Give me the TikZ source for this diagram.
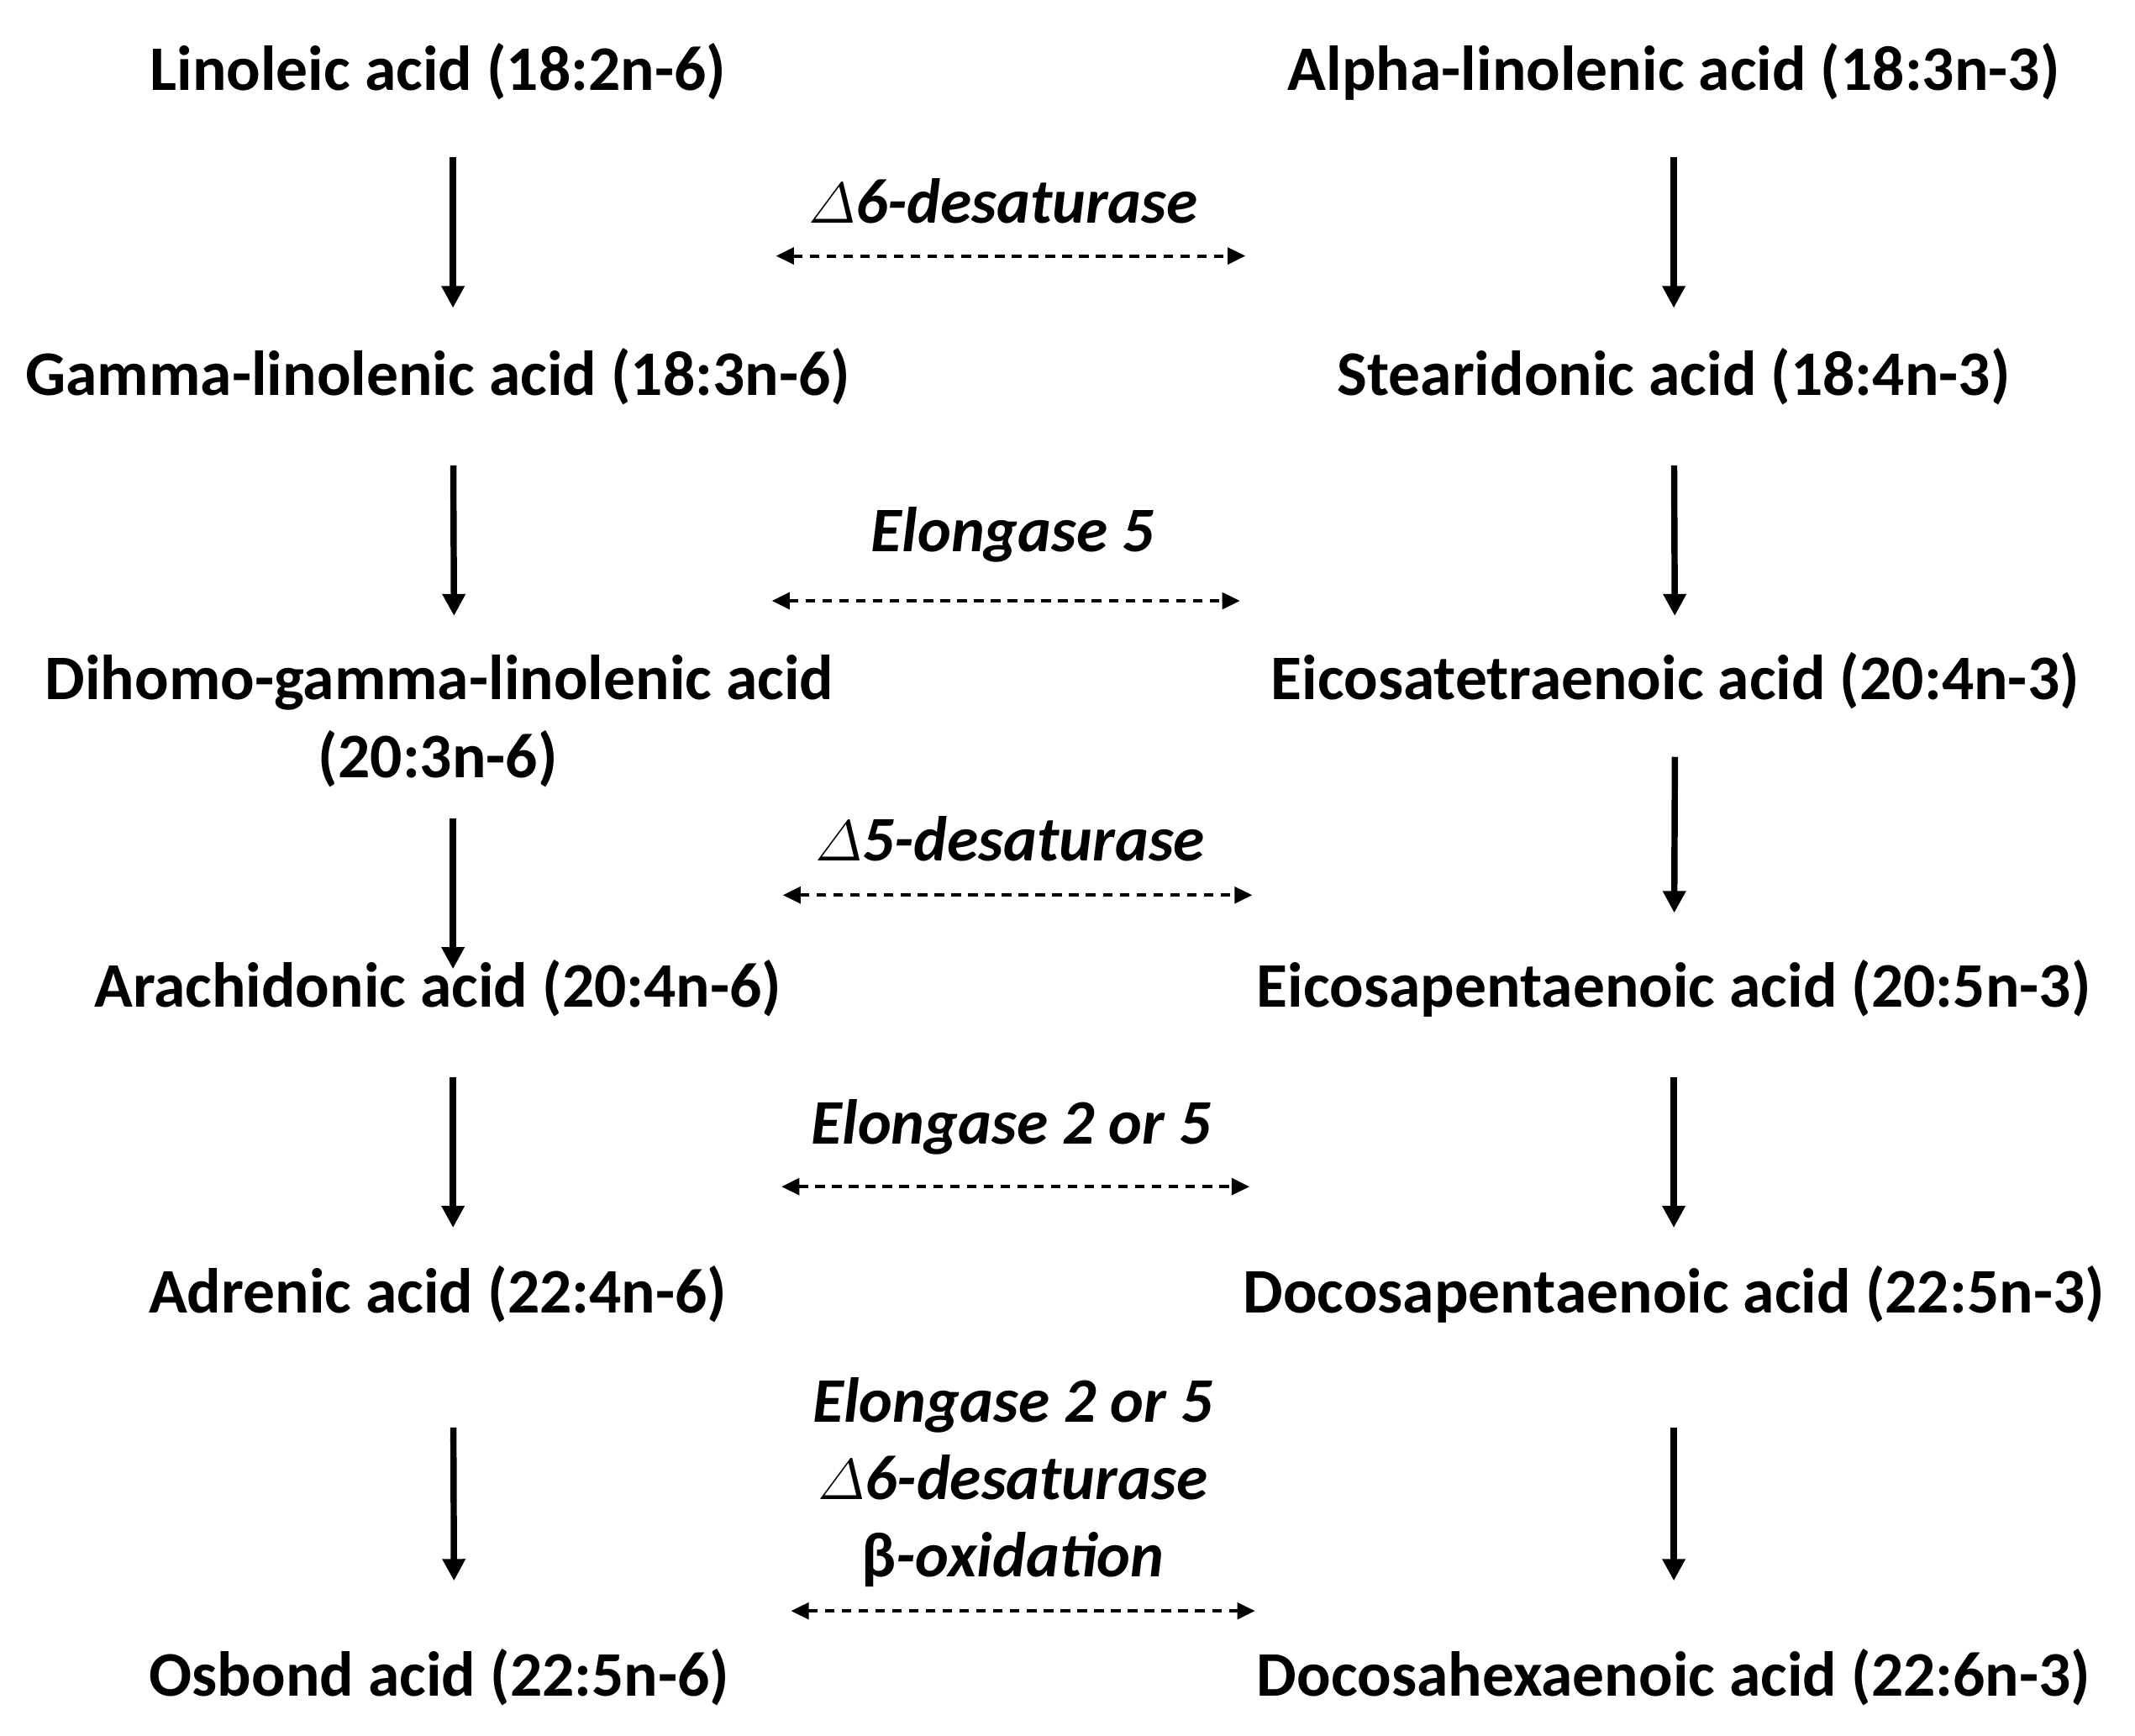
\documentclass[tikz,border=0pt]{standalone}
\usepackage{amsmath}
\usepackage{fontspec}
\setmainfont{Carlito}
\usetikzlibrary{arrows.meta}

\begin{document}
\begin{tikzpicture}
            \tikzstyle{acid}=[font=\fontsize{13.2}{16}\selectfont\bfseries,inner sep=0pt,anchor=base]
            \tikzstyle{enz}=[font=\fontsize{13.2}{16}\selectfont\bfseries\itshape,inner sep=0pt,anchor=base]
            \tikzstyle{arr}=[line width=1.3pt,-{Triangle[length=1.6mm,width=1.6mm]}]
            \tikzstyle{darr}=[line width=0.7pt,dash pattern=on 0.7mm off 0.53mm,
              {Triangle[length=1.3mm,width=1.2mm]}-{Triangle[length=1.3mm,width=1.2mm]}]

            \useasboundingbox (0,0) rectangle (15.60,-12.68);

            % n-6 series
            \node [acid] (lin)  at (3.20,-0.66)  {Linoleic acid (18:2n-6)};
            \node [acid] (gla)  at (3.20,-2.89)  {Gamma-linolenic acid (18:3n-6)};
            \node [acid] (dgla) at (3.21,-5.11)  {Dihomo-gamma-linolenic acid};
            \node [acid] (dglb) at (3.20,-5.68)  {(20:3n-6)};
            \node [acid] (ara)  at (3.20,-7.36)  {Arachidonic acid (20:4n-6)};
            \node [acid] (adr)  at (3.20,-9.59)  {Adrenic acid (22:4n-6)};
            \node [acid] (osb)  at (3.21,-12.39) {Osbond acid (22:5n-6)};

            % n-3 series
            \node [acid] (ala)  at (12.23,-0.66)  {Alpha-linolenic acid (18:3n-3)};
            \node [acid] (sda)  at (12.23,-2.89)  {Stearidonic acid (18:4n-3)};
            \node [acid] (eta)  at (12.24,-5.11)  {Eicosatetraenoic acid (20:4n-3)};
            \node [acid] (epa)  at (12.23,-7.36)  {Eicosapentaenoic acid (20:5n-3)};
            \node [acid] (dpa)  at (12.23,-9.59)  {Docosapentaenoic acid (22:5n-3)};
            \node [acid] (dha)  at (12.23,-12.39) {Docosahexaenoic acid (22:6n-3)};

            % enzymes
            \node [enz] (e1) at (7.33,-1.63) {$\varDelta$6-desaturase};
            \node [enz] (e2) at (7.40,-4.03) {Elongase 5};
            \node [enz] (e3) at (7.38,-6.29) {$\varDelta$5-desaturase};
            \node [enz] (e4) at (7.39,-8.36) {Elongase 2 or 5};
            \node [enz,anchor=center,align=center] (e5) at (7.40,-10.83)
              {Elongase 2 or 5\\$\varDelta$6-desaturase\\{\upshape β}-oxidation};

            \foreach \a/\b/\s/\e in {lin/gla/4.9/6.4, gla/dgla/5.1/6.1, dglb/ara/3.0/2.8,
                ara/adr/5.1/6.2, adr/osb/8.4/8.4}
              \draw [arr,shorten <=\s mm,shorten >=\e mm] ([xshift=1.1mm]\a.base) -- ([xshift=1.1mm]\b.base);
            \foreach \a/\b/\s/\e in {ala/sda/4.9/6.4, sda/eta/5.1/6.1, eta/epa/4.2/6.9,
                epa/dpa/5.1/6.2, dpa/dha/8.4/8.4}
              \draw [arr,shorten <=\s mm,shorten >=\e mm] (\a.base) -- (\b.base);

            \coordinate (d1a) at (5.67,-1.87);  \coordinate (d1b) at (9.10,-1.87);
            \coordinate (d2a) at (5.64,-4.39);  \coordinate (d2b) at (9.06,-4.39);
            \coordinate (d3a) at (5.72,-6.54);  \coordinate (d3b) at (9.15,-6.54);
            \coordinate (d4a) at (5.71,-8.67);  \coordinate (d4b) at (9.13,-8.67);
            \coordinate (d5a) at (5.78,-11.77); \coordinate (d5b) at (9.17,-11.77);
            \foreach \i in {1,...,5}
              \draw [darr] (d\i a) -- (d\i b);
        \end{tikzpicture}
\end{document}
